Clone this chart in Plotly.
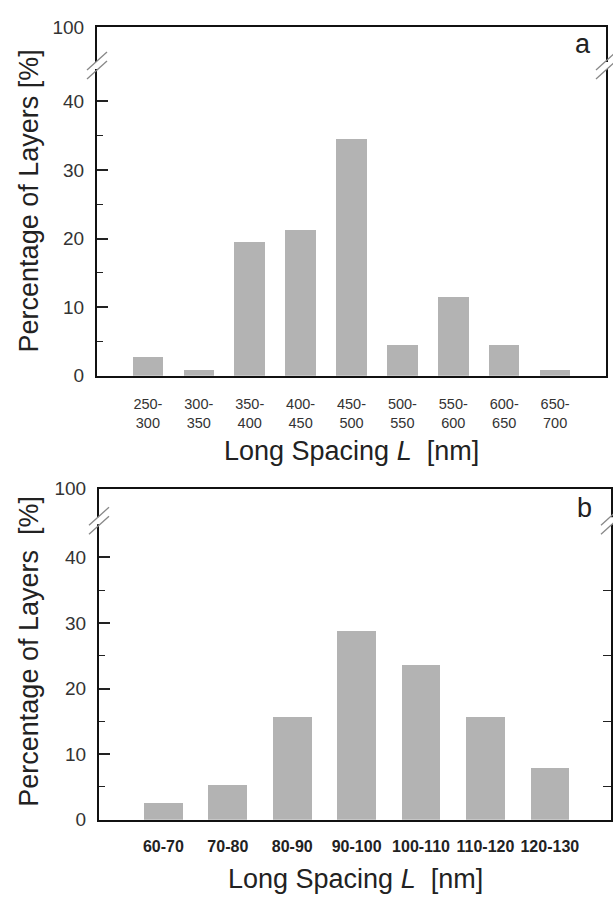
import plotly.graph_objects as go

# ---- data ----
cats_a = ["250-<br>300", "300-<br>350", "350-<br>400", "400-<br>450", "450-<br>500",
          "500-<br>550", "550-<br>600", "600-<br>650", "650-<br>700"]
vals_a = [2.7, 0.9, 19.5, 21.2, 34.5, 4.4, 11.5, 4.4, 0.9]

cats_b = ["60-70", "70-80", "80-90", "90-100", "100-110", "110-120", "120-130"]
vals_b = [2.6, 5.3, 15.8, 28.9, 23.7, 15.8, 7.9]

ytop_a, ytop_b = 50.8, 50.5
ytick_major = [0, 10, 20, 30, 40]
ytick_labels = ["0", "10", "20", "30", "40", "100"]
yminor_vals = [5, 15, 25, 35]
break_a, break_b = 45.2, 45.6

W, H = 613, 902
FONT = "Liberation Sans, Arial, sans-serif"
BAR = "#b3b3b3"
TXT = "#222"


def px(v):
    return v / W


def py(v):
    return 1 - v / H


dom_a_x = [px(97), px(606)]
dom_a_y = [py(374.5), py(17.5)]
dom_b_x = [px(99), px(611)]
dom_b_y = [py(829), py(490)]

ia = list(range(len(cats_a)))
ib = list(range(len(cats_b)))

fig = go.Figure()
fig.add_trace(go.Bar(x=ia, y=vals_a, width=0.6, marker=dict(color=BAR, line=dict(width=0)),
                     xaxis="x", yaxis="y", showlegend=False, hoverinfo="skip"))
fig.add_trace(go.Bar(x=ib, y=vals_b, width=0.6, marker=dict(color=BAR, line=dict(width=0)),
                     xaxis="x2", yaxis="y2", showlegend=False, hoverinfo="skip"))
# helper so that the right-hand tick axis of panel b is drawn
fig.add_trace(go.Scatter(x=ib, y=[0] * len(ib), mode="markers", marker=dict(opacity=0),
                         xaxis="x2", yaxis="y4", showlegend=False, hoverinfo="skip"))


def yaxis(top, dom, anchor):
    return dict(domain=dom, anchor=anchor, range=[0, top], tickmode="array",
                tickvals=ytick_major + [top], ticktext=ytick_labels,
                ticks="inside", ticklen=11, tickwidth=1.5, tickcolor=TXT,
                showline=True, linewidth=2, linecolor="#111", mirror=True,
                showgrid=False, zeroline=False, ticklabelstandoff=7,
                tickfont=dict(family=FONT, size=19, color="#333"),
                minor=dict(tickmode="array", tickvals=yminor_vals, ticks="inside",
                           ticklen=6, tickwidth=1.3, tickcolor=TXT))


fig.update_layout(
    width=W, height=H, margin=dict(l=0, r=0, t=0, b=0),
    paper_bgcolor="white", plot_bgcolor="white", bargap=0, hovermode=False,
    xaxis=dict(domain=dom_a_x, anchor="y", range=[-1.0, 9.0], tickmode="array",
               tickvals=ia, ticktext=cats_a, ticks="", ticklabelstandoff=14,
               showline=True, linewidth=2, linecolor="#111", mirror=True,
               showgrid=False, zeroline=False,
               tickfont=dict(family=FONT, size=14.5, color="#333")),
    yaxis=yaxis(ytop_a, dom_a_y, "x"),
    xaxis2=dict(domain=dom_b_x, anchor="y2", range=[-1.0, 6.95], tickmode="array",
                tickvals=ib, ticktext=cats_b, ticks="", ticklabelstandoff=11,
                showline=True, linewidth=2, linecolor="#111", mirror=True,
                showgrid=False, zeroline=False,
                tickfont=dict(family=FONT, size=16, color="#222", weight="bold")),
    yaxis2=yaxis(ytop_b, dom_b_y, "x2"),
    yaxis4=dict(overlaying="y2", anchor="x2", side="right", range=[0, ytop_b],
                tickmode="array", tickvals=yminor_vals, showticklabels=False,
                ticks="inside", ticklen=8, tickwidth=1.3, tickcolor=TXT,
                showline=False, showgrid=False, zeroline=False),
)


def note(text, x, y, size=27, angle=0):
    return dict(text=text, x=x, y=y, xref="paper", yref="paper", showarrow=False,
                xanchor="center", yanchor="middle", textangle=angle,
                font=dict(family=FONT, size=size, color=TXT))


ann = [
    note("Long Spacing <i>L</i>  [nm]", px(351), py(451)),
    note("Long Spacing <i>L</i>  [nm]", px(355), py(890)),
    note("Percentage of Layers [%]", px(29), py(196), angle=-90),
    note("Percentage of Layers  [%]", px(29), py(657), angle=-90),
    note("a", px(582.5), py(35)),
    note("b", px(584), py(510)),
]
fig.update_layout(annotations=ann)

# axis break marks (drawn at the break value on both side axes)
shapes = []
for xr, yr, brk in (("x domain", "y", break_a), ("x2 domain", "y2", break_b)):
    for side in (0, 1):
        shapes.append(dict(type="line", xref=xr, yref=yr, xsizemode="pixel", xanchor=side,
                           ysizemode="pixel", yanchor=brk,
                           x0=0, x1=0, y0=-3.5, y1=3.5, line=dict(color="white", width=4)))
        for off in (-4.5, 4.5):
            shapes.append(dict(type="line", xref=xr, yref=yr, xsizemode="pixel", xanchor=side,
                               ysizemode="pixel", yanchor=brk,
                               x0=-10, x1=10, y0=-9 + off, y1=9 + off,
                               line=dict(color="#888", width=1.3)))
fig.update_layout(shapes=shapes)

fig.write_html("out.html", config={"displayModeBar": False},
               post_script="document.body.style.margin='0px';")
